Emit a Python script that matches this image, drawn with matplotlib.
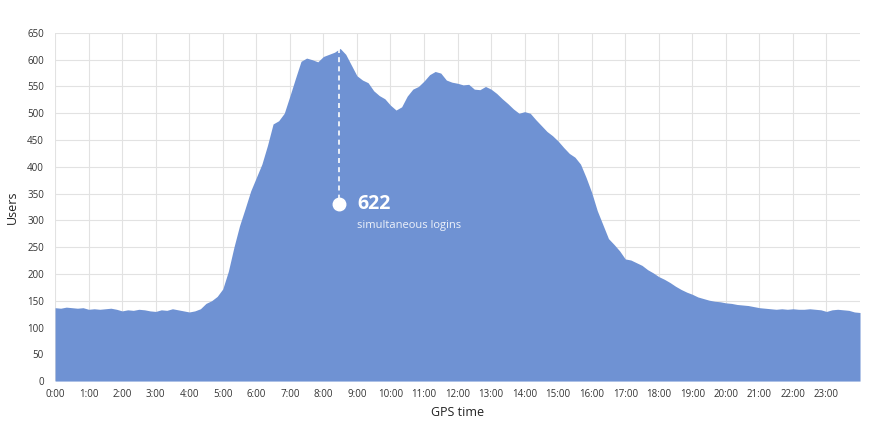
import matplotlib
matplotlib.use("Agg")
import matplotlib.pyplot as plt
import numpy as np

plt.rcParams['font.family'] = ['Open Sans', 'DejaVu Sans']

# usuarios simultaneos, cada 10 minutos (0:00 -> 24:00)
horas = np.arange(0, 24 + 1e-9, 1 / 6)
usuarios = [
    137, 136, 138, 137, 136, 137,   # 0h
    134, 135, 134, 135, 136, 134,   # 1h
    131, 133, 132, 134, 133, 131,   # 2h
    130, 133, 132, 135, 133, 131,   # 3h
    129, 131, 135, 145, 150, 158,   # 4h
    172, 205, 250, 290, 322, 355,   # 5h
    380, 405, 440, 480, 486, 500,   # 6h
    532, 565, 597, 603, 600, 596,   # 7h
    606, 610, 614, 621, 610, 590,   # 8h
    570, 562, 557, 542, 533, 527,   # 9h
    515, 506, 512, 532, 545, 550,   # 10h
    560, 572, 578, 575, 562, 558,   # 11h
    556, 553, 554, 545, 544, 550,   # 12h
    545, 537, 527, 518, 508, 500,   # 13h
    503, 500, 488, 477, 466, 458,   # 14h
    448, 436, 425, 418, 405, 380,   # 15h
    352, 318, 292, 266, 255, 243,   # 16h
    228, 226, 221, 216, 208, 202,   # 17h
    195, 190, 184, 177, 171, 166,   # 18h
    162, 157, 154, 151, 149, 148,   # 19h
    146, 145, 143, 142, 141, 139,   # 20h
    137, 136, 135, 134, 135, 134,   # 21h
    135, 134, 134, 135, 134, 133,   # 22h
    130, 133, 134, 133, 132, 129,   # 23h
    128,
]
etiquetas_x = ['%d:00' % h for h in range(24)]
etiquetas_y = list(range(0, 651, 50))

pico_hora = 8.46
pico_valor = 622
punto_valor = 331

fig = plt.figure(figsize=(8.74, 4.22), dpi=100)
ax = fig.add_axes([0.063, 0.097, 0.921, 0.825])

ax.fill_between(horas, usuarios, 0, color='#6f92d3', linewidth=0, zorder=2)

ax.set_xlim(0, 24)
ax.set_ylim(0, 650)
ax.set_xticks(range(24))
ax.set_xticklabels(etiquetas_x)
ax.set_yticks(etiquetas_y)
ax.tick_params(axis='both', length=0, labelsize=7, colors='#333333')
ax.tick_params(axis='x', pad=6)
ax.tick_params(axis='y', pad=8)
ax.grid(True, color='#e2e2e2', linewidth=0.8, zorder=0)
for s in ax.spines.values():
    s.set_visible(False)

# anotacion del pico
ax.plot([pico_hora, pico_hora], [pico_valor, punto_valor], color='white',
        linestyle=(0, (3, 2.5)), linewidth=1.2, zorder=3)
ax.plot(pico_hora, punto_valor, 'o', color='white', markersize=9, zorder=4)
ax.text(pico_hora + 0.55, punto_valor, str(pico_valor), color='white',
        fontsize=14, fontweight='bold', va='center', ha='left', zorder=5)
ax.text(pico_hora + 0.55, 291, 'simultaneous logins', color='#eef2fa',
        fontsize=8, va='center', ha='left', zorder=5)

ax.set_ylabel('Users', fontsize=9, color='#222222', labelpad=6)
ax.set_xlabel('GPS time', fontsize=9, color='#222222', labelpad=4)

fig.savefig('out.png', dpi=100)
